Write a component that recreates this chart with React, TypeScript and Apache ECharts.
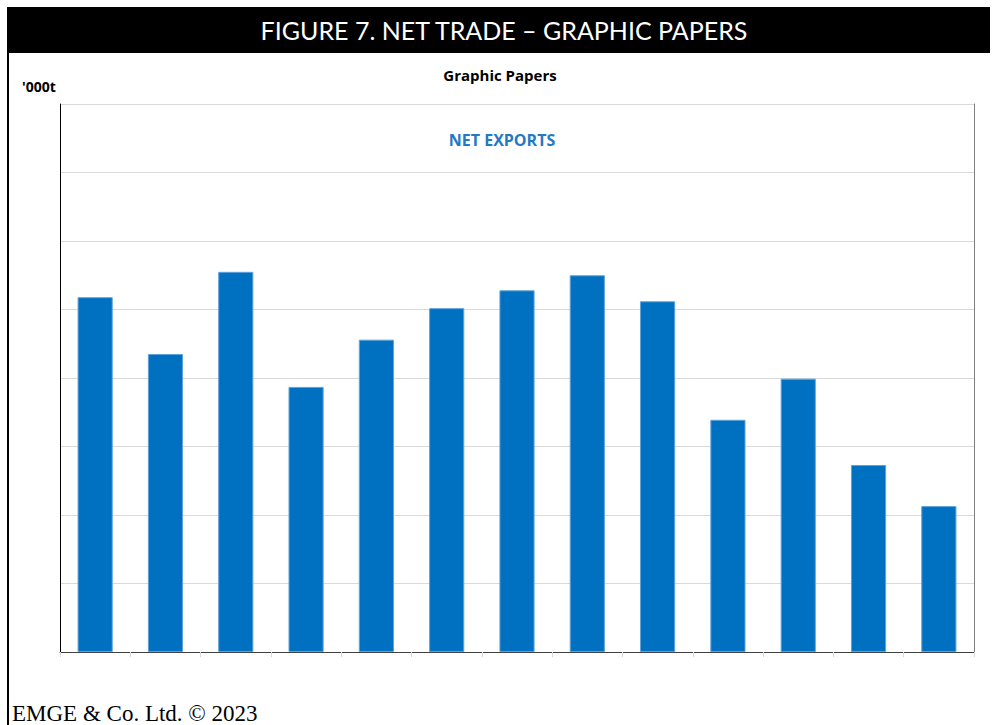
import React, { useEffect, useRef } from "react";
import * as echarts from "echarts";

const categories = ["1", "2", "3", "4", "5", "6", "7", "8", "9", "10", "11", "12", "13"];
const netExports = [518, 435, 555, 387, 456, 502, 528, 550, 512, 339, 399, 273, 213];
const yMin = 0;
const yMax = 800;
const yInterval = 100;

const headerTitle = "FIGURE 7. NET TRADE – GRAPHIC PAPERS";
const chartTitle = "Graphic Papers";
const unitLabel = "'000t";
const seriesLabel = "NET EXPORTS";
const footer = "EMGE & Co. Ltd. © 2023";

export default function App() {
  const ref = useRef<HTMLDivElement>(null);
  useEffect(() => {
    if (!ref.current) return;
    const chart = echarts.init(ref.current, null, { renderer: "svg" });
    chart.setOption({
      animation: false,
      backgroundColor: "#ffffff",
      grid: { left: 60, top: 104, right: 21, bottom: 73, containLabel: false },
      xAxis: [
        {
          type: "category",
          data: categories,
          position: "bottom",
          axisLine: { show: true, lineStyle: { color: "#d9d9d9", width: 1 } },
          axisTick: { show: true, length: 5, lineStyle: { color: "#d9d9d9" } },
          axisLabel: { show: false },
        },
        {
          type: "category",
          data: categories,
          position: "top",
          axisLine: { show: true, lineStyle: { color: "#404040", width: 1 } },
          axisTick: { show: false },
          axisLabel: { show: false },
        },
      ],
      yAxis: [
        {
          type: "value",
          min: yMin,
          max: yMax,
          interval: yInterval,
          position: "left",
          axisLine: { show: true, lineStyle: { color: "#000000", width: 1 } },
          axisTick: { show: false },
          axisLabel: { show: false },
          splitLine: { show: true, lineStyle: { color: "#d9d9d9", width: 1 } },
        },
        {
          type: "value",
          min: yMin,
          max: yMax,
          interval: yInterval,
          position: "right",
          axisLine: { show: true, lineStyle: { color: "#7f7f7f", width: 1 } },
          axisTick: { show: false },
          axisLabel: { show: false },
          splitLine: { show: false },
        },
      ],
      series: [
        {
          name: seriesLabel,
          type: "bar",
          data: netExports,
          barWidth: "50%",
          itemStyle: { color: "#0070C0", borderColor: "#5fa3dc", borderWidth: 1 },
        },
      ],
      graphic: [
        { type: "rect", shape: { x: 7, y: 7, width: 983, height: 46 }, style: { fill: "#000000" } },
        { type: "rect", shape: { x: 7, y: 53, width: 2, height: 672 }, style: { fill: "#000000" } },
        {
          type: "text",
          x: 504,
          y: 30,
          style: {
            text: headerTitle,
            fill: "#ffffff",
            font: "normal 25px Lato",
            textAlign: "center",
            textVerticalAlign: "middle",
          },
        },
        {
          type: "text",
          x: 500,
          y: 75,
          style: {
            text: chartTitle,
            fill: "#000000",
            font: "bold 15px 'Open Sans'",
            textAlign: "center",
            textVerticalAlign: "middle",
          },
        },
        {
          type: "text",
          x: 22,
          y: 86,
          style: {
            text: unitLabel,
            fill: "#000000",
            font: "bold 14px 'Open Sans'",
            textAlign: "left",
            textVerticalAlign: "middle",
          },
        },
        {
          type: "text",
          x: 502,
          y: 140,
          style: {
            text: seriesLabel,
            fill: "#2479C3",
            font: "bold 16px 'Open Sans'",
            textAlign: "center",
            textVerticalAlign: "middle",
          },
        },
        {
          type: "text",
          x: 12,
          y: 713,
          style: {
            text: footer,
            fill: "#000000",
            font: "23px 'Liberation Serif'",
            textAlign: "left",
            textVerticalAlign: "middle",
          },
        },
      ],
    });
    return () => chart.dispose();
  }, []);
  return (
    <div
      ref={ref}
      style={{ position: "absolute", left: 0, top: 0, width: 995, height: 725 }}
    />
  );
}
